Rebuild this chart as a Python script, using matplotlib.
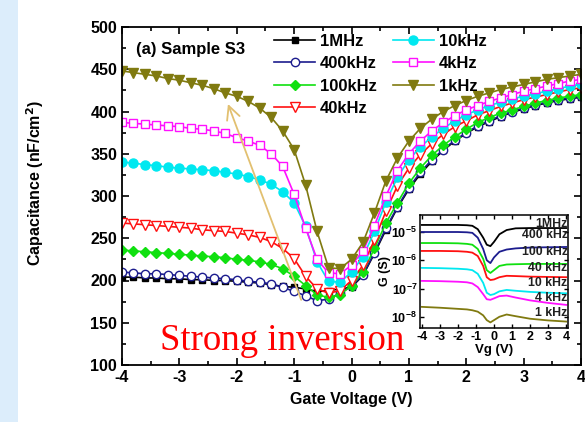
import numpy as np
import matplotlib
matplotlib.use("Agg")
import matplotlib.pyplot as plt
from matplotlib.patches import Rectangle

plt.rcParams['font.family'] = ['Liberation Sans', 'DejaVu Sans']
plt.rcParams['axes.unicode_minus'] = False

# C-V data (nF/cm^2), gate voltage step 0.2 V
gate_voltage = np.round(np.arange(-4.0, 4.01, 0.2), 2)

c_1mhz = [204, 204, 203, 203, 202, 202, 201, 201, 200, 200, 199, 198, 197, 195, 193,
          192, 190, 187, 188, 190, 192, 206, 232, 260, 286, 308, 326, 341, 354, 365,
          374, 382, 388, 394, 399, 403, 407, 410, 413, 415, 417]
c_400khz = [210, 209, 208, 208, 207, 206, 205, 204, 203, 202, 201, 199, 198, 196, 192,
            187, 182, 176, 178, 185, 193, 207, 233, 262, 287, 310, 328, 343, 355, 366,
            375, 383, 389, 395, 400, 404, 408, 411, 414, 416, 418]
c_100khz = [236, 235, 234, 233, 232, 231, 230, 229, 228, 227, 225, 224, 222, 219, 214,
            205, 194, 183, 180, 183, 194, 210, 238, 268, 292, 315, 333, 348, 360, 370,
            379, 387, 393, 398, 402, 406, 410, 413, 416, 418, 420]
c_40khz = [268, 267, 266, 265, 264, 263, 262, 260, 259, 258, 256, 254, 251, 246, 238,
           226, 205, 190, 185, 188, 200, 218, 248, 282, 312, 333, 349, 362, 373, 382,
           389, 396, 401, 406, 410, 414, 417, 420, 423, 426, 428]
c_10khz = [340, 339, 337, 336, 334, 333, 332, 331, 330, 328, 326, 323, 319, 314, 305,
           292, 264, 222, 199, 198, 210, 228, 258, 293, 322, 343, 358, 370, 380, 389,
           396, 402, 407, 411, 415, 418, 421, 424, 427, 430, 432]
c_4khz = [387, 386, 385, 384, 383, 382, 380, 379, 377, 374, 369, 365, 360, 350, 335,
          302, 262, 225, 209, 208, 218, 235, 265, 300, 330, 350, 365, 377, 387, 395,
          402, 407, 412, 416, 420, 424, 427, 430, 433, 436, 438]
c_1khz = [448, 446, 444, 442, 439, 437, 434, 431, 427, 422, 418, 412, 404, 393, 377,
          355, 313, 258, 215, 214, 225, 245, 280, 318, 345, 365, 380, 391, 400, 407,
          413, 418, 422, 426, 429, 432, 435, 438, 440, 442, 444]

labels = ['1MHz', '400kHz', '100kHz', '40kHz', '10kHz', '4kHz', '1kHz']
inset_labels = ['1MHz', '400 kHz', '100 kHz', '40 kHz', '10 kHz', '4 kHz', '1 kHz']
colors = ['#000000', '#1c1c8e', '#10e010', '#ff1010', '#00e8f0', '#ff10ff', '#807a10']

# inset G-V data, log10(G / S)
inset_vg = [-4, -3, -2, -1.5, -1.2, -0.9, -0.6, -0.4, -0.2, 0, 0.3, 0.7, 1.2, 2, 3, 4]
logg_1mhz = [-4.75, -4.75, -4.75, -4.76, -4.78, -4.9, -5.2, -5.45, -5.5, -5.35,
             -5.08, -4.93, -4.87, -4.86, -4.86, -4.86]
logg_400khz = [-5.0, -5.0, -5.0, -5.01, -5.03, -5.2, -5.6, -6.0, -6.1, -5.9,
               -5.7, -5.62, -5.58, -5.55, -5.54, -5.53]
logg_100khz = [-5.39, -5.39, -5.4, -5.42, -5.45, -5.6, -5.95, -6.35, -6.45, -6.35,
               -6.2, -6.15, -6.14, -6.13, -6.13, -6.13]
logg_40khz = [-5.67, -5.67, -5.68, -5.7, -5.73, -5.85, -6.2, -6.6, -6.7, -6.68,
              -6.6, -6.55, -6.56, -6.58, -6.59, -6.6]
logg_10khz = [-6.27, -6.28, -6.3, -6.32, -6.35, -6.48, -6.8, -7.15, -7.23, -7.2,
              -7.1, -7.05, -7.08, -7.12, -7.15, -7.17]
logg_4khz = [-6.73, -6.74, -6.76, -6.78, -6.82, -6.95, -7.2, -7.38, -7.4, -7.35,
             -7.27, -7.25, -7.32, -7.42, -7.51, -7.58]
logg_1khz = [-7.65, -7.68, -7.72, -7.74, -7.77, -7.82, -7.95, -8.12, -8.2, -8.12,
             -8.0, -7.92, -7.98, -8.07, -8.13, -8.17]

c_series = [c_1mhz, c_400khz, c_100khz, c_40khz, c_10khz, c_4khz, c_1khz]
g_series = [logg_1mhz, logg_400khz, logg_100khz, logg_40khz, logg_10khz, logg_4khz, logg_1khz]
markers = ['s', 'o', 'D', 'v', 'o', 's', 'v']
fills = [True, False, True, False, True, False, True]
msizes = [5, 6, 5.5, 6.5, 6.5, 5.5, 6.5]

fig = plt.figure(figsize=(5.85, 4.22), dpi=100)
fig.patches.append(Rectangle((0, 0), 18 / 585, 1, transform=fig.transFigure,
                             facecolor='#dcedfb', edgecolor='none', zorder=-10))

ax = fig.add_axes([122 / 585, 1 - 365 / 422, 459 / 585, 338 / 422])

for vals, lab, col, mk, fill, ms in zip(c_series, labels, colors, markers, fills, msizes):
    ax.plot(gate_voltage, vals, color=col, lw=1.2, marker=mk, ms=ms,
            markerfacecolor=col if fill else 'white', markeredgecolor=col,
            markeredgewidth=1.0, label=lab)

ax.set_xlim(-4, 4)
ax.set_ylim(100, 500)
ax.set_xticks(np.arange(-4, 5, 1))
ax.set_xticks(np.arange(-4, 4.01, 0.5), minor=True)
ax.set_yticks(np.arange(100, 501, 50))
ax.set_yticks(np.arange(100, 501, 25), minor=True)
ax.tick_params(which='both', direction='in', top=True, right=True, width=1.2)
ax.tick_params(which='major', length=5, labelsize=11.5)
ax.tick_params(which='minor', length=3)
for t in ax.get_xticklabels() + ax.get_yticklabels():
    t.set_fontweight('bold')
for s in ax.spines.values():
    s.set_linewidth(1.3)

ax.set_xlabel('Gate Voltage (V)', fontsize=11.5, fontweight='bold', labelpad=5)
ax.set_ylabel('Capacitance (nF/cm$^\\mathbf{2}$)', fontsize=11.5, fontweight='bold')
ax.yaxis.set_label_coords(-0.165, 0.54)

ax.text(0.03, 0.955, '(a) Sample S3', transform=ax.transAxes, fontsize=12,
        fontweight='bold', va='top', ha='left')

leg = ax.legend(ncol=2, loc='upper left', bbox_to_anchor=(0.31, 1.01), frameon=False,
                prop={'weight': 'bold', 'size': 12}, handlelength=2.45,
                handletextpad=0.3, labelspacing=0.45, columnspacing=0.95,
                borderaxespad=0.2)

# arrow pointing towards lower frequency
ax.annotate('', xy=(-2.17, 412), xytext=(-0.86, 174),
            arrowprops=dict(arrowstyle='->', color='#e2c070', lw=1.3,
                            mutation_scale=24))

ax.text(-3.34, 118, 'Strong inversion', color='#ff0000', fontsize=26.5,
        family='Liberation Serif', ha='left', va='baseline')

# inset: conductance
axin = fig.add_axes([420 / 585, 1 - 328 / 422, 148 / 585, 113 / 422])
for vals, col in zip(g_series, colors):
    axin.plot(inset_vg, 10 ** np.array(vals), color=col, lw=1.3)
axin.set_yscale('log')
axin.set_ylim(4e-9, 4e-5)
axin.set_xlim(-4.1, 4.1)
axin.set_xticks(np.arange(-4, 5, 1))
axin.set_yticks([1e-8, 1e-7, 1e-6, 1e-5])
axin.minorticks_off()
axin.tick_params(direction='in', top=True, right=True, length=3, width=1,
                 labelsize=9, pad=2)
for t in axin.get_xticklabels() + axin.get_yticklabels():
    t.set_fontweight('bold')
for s in axin.spines.values():
    s.set_linewidth(1.1)
axin.set_xlabel('Vg (V)', fontsize=9.5, fontweight='bold', labelpad=1)
axin.set_ylabel('G (S)', fontsize=9, fontweight='bold', labelpad=0)

label_y = [-4.72, -5.12, -5.7, -6.27, -6.82, -7.32, -7.88]
for lab, ly in zip(inset_labels, label_y):
    axin.text(4.08, 10 ** ly, lab, fontsize=8.8, fontweight='bold', color='#202020',
              ha='right', va='center')

fig.savefig('out.png', dpi=100)
